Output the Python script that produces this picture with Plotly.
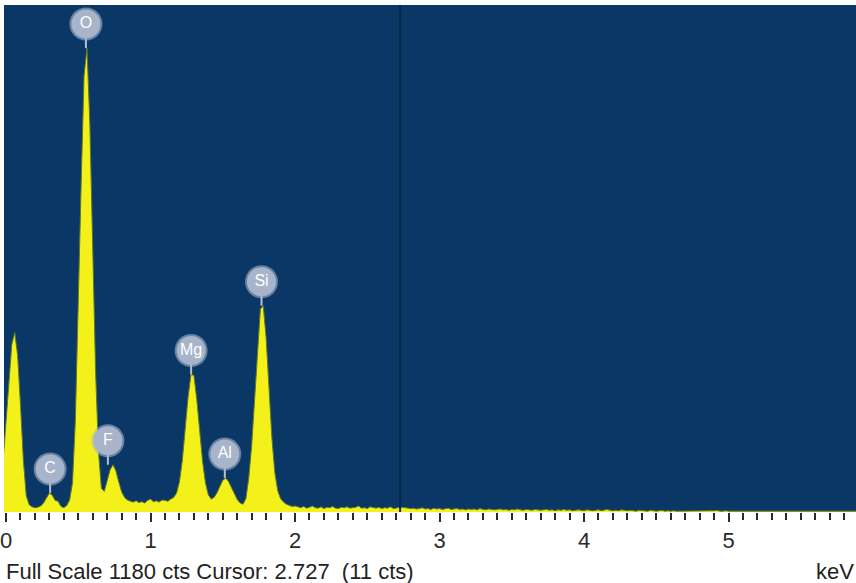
import numpy as np
import plotly.graph_objects as go

# EDS spectrum: counts per 20 eV channel, first channel at -0.02 keV
CHANNEL_START = -0.02
CHANNEL_WIDTH = 0.02
counts = [
    120, 205, 300, 390, 418, 365, 250, 120, 38, 17,
    12, 10, 11, 14, 21, 33, 44, 39, 27, 25,
    13, 10, 15, 28, 68, 215, 460, 765, 1015, 1080,
    905, 610, 325, 140, 55, 48, 72, 98, 110, 96,
    70, 47, 34, 28, 25, 23, 26, 22, 24, 21,
    27, 30, 24, 26, 23, 28, 27, 25, 30, 34,
    44, 70, 120, 192, 268, 320, 318, 262, 188, 118,
    68, 40, 30, 34, 45, 61, 74, 79, 71, 57,
    41, 29, 21, 18, 31, 80, 155, 265, 385, 472,
    480, 405, 288, 172, 92, 50, 31, 23, 18, 16,
    13, 14,
    # 2.02 - 2.40
    12, 10, 13, 9, 11, 14, 10, 9, 12, 8, 11, 10, 13, 9, 8, 11, 10, 12, 9, 10,
    # 2.42 - 2.80
    11, 14, 9, 10, 8, 12, 10, 9, 11, 8, 10, 9, 12, 8, 9, 11, 11, 10, 9, 8,
    # 2.82 - 3.20
    9, 7, 8, 10, 7, 8, 6, 9, 7, 8, 6, 7, 9, 6, 7, 8, 6, 7, 5, 7,
    # 3.22 - 3.60
    6, 7, 5, 8, 6, 5, 7, 6, 5, 6, 7, 5, 6, 4, 6, 5, 7, 5, 4, 6,
    # 3.62 - 4.00
    5, 4, 6, 5, 4, 5, 6, 4, 5, 3, 5, 4, 6, 4, 5, 3, 4, 5, 4, 3,
    # 4.02 - 4.40
    5, 4, 3, 4, 5, 3, 4, 6, 4, 3, 4, 3, 5, 4, 3, 4, 3, 2, 4, 3,
    # 4.42 - 4.80
    3, 2, 4, 3, 2, 3, 4, 2, 3, 2, 3, 2, 2, 3, 2, 3, 2, 2, 3, 2,
    # 4.82 - 5.20
    2, 3, 2, 2, 3, 4, 2, 2, 3, 2, 2, 3, 2, 2, 2, 3, 2, 2, 2, 3,
    # 5.22 - 5.60
    2, 2, 3, 2, 2, 2, 3, 2, 2, 2, 3, 2, 2, 3, 2, 2, 2, 2, 3, 2,
    # 5.62 - 5.88
    2, 2, 3, 2, 2, 2, 2, 3, 2, 2, 2, 2, 3, 2,
]
energy = CHANNEL_START + CHANNEL_WIDTH * np.arange(len(counts))
counts = np.array(counts, dtype=float)

# Identified element lines (keV, as calibrated on this detector)
elements = ["C", "O", "F", "Mg", "Al", "Si"]
element_kev = [0.305, 0.553, 0.705, 1.281, 1.514, 1.768]

FULL_SCALE = 1180
CURSOR_KEV = 2.727
X_RANGE = [-0.014, 5.882]
major_ticks = [0, 1, 2, 3, 4, 5]

# Geometry
W, H = 856, 583
M = dict(l=4, r=0, t=5, b=71)
plot_h = H - M["t"] - M["b"]
LABEL_OFFSET_PX = 24
label_offset = LABEL_OFFSET_PX * FULL_SCALE / plot_h

BG = "#0b3767"
YELLOW = "#f4f11a"
BADGE = "#a8b4ca"
FONT = "Liberation Sans, Arial, sans-serif"

peak_height = [
    counts[(energy > e - 0.05) & (energy < e + 0.05)].max() for e in element_kev
]
badge_y = [p + label_offset for p in peak_height]

cursor_cts = int(round(np.interp(CURSOR_KEV, energy, counts)))

fig = go.Figure()

# Spectrum
fig.add_trace(go.Scatter(
    x=energy, y=counts, mode="lines", fill="tozeroy",
    fillcolor=YELLOW, line=dict(color="#5f7a28", width=1),
    hoverinfo="skip", showlegend=False,
))

# Stems from peak to badge
for e, p, b in zip(element_kev, peak_height, badge_y):
    fig.add_trace(go.Scatter(
        x=[e, e], y=[p, b], mode="lines",
        line=dict(color="#b4bfd2", width=2),
        hoverinfo="skip", showlegend=False,
    ))

# Badge: soft outer rim + core carrying the element symbol
fig.add_trace(go.Scatter(
    x=element_kev, y=badge_y, mode="markers",
    marker=dict(size=33, color=BADGE, opacity=0.6, line=dict(width=0)),
    hoverinfo="skip", showlegend=False,
))
fig.add_trace(go.Scatter(
    x=element_kev, y=badge_y, mode="markers+text",
    marker=dict(size=29, color=BADGE, line=dict(width=0)),
    text=elements, textposition="middle center",
    textfont=dict(family=FONT, size=16, color="#ffffff"),
    hoverinfo="skip", showlegend=False,
))

# Cursor
fig.add_shape(
    type="line", xref="x", yref="paper",
    x0=CURSOR_KEV, x1=CURSOR_KEV, y0=0, y1=1,
    line=dict(color="#072544", width=2), layer="above",
)

status = f"Full Scale {FULL_SCALE} cts Cursor: {CURSOR_KEV:.3f}  ({cursor_cts} cts)"
text_y = -(571 - (H - M["b"])) / plot_h

fig.add_annotation(
    text=status, xref="paper", yref="paper", x=0, y=text_y,
    xanchor="left", yanchor="middle", showarrow=False,
    font=dict(family=FONT, size=22, color="#222222"),
)
fig.add_annotation(
    text="keV", xref="paper", yref="paper", x=1, y=text_y,
    xanchor="right", yanchor="middle", showarrow=False,
    font=dict(family=FONT, size=22, color="#222222"),
)

fig.update_layout(
    width=W, height=H, margin=M,
    paper_bgcolor="#ffffff", plot_bgcolor=BG,
    showlegend=False,
    xaxis=dict(
        range=X_RANGE, showgrid=False, zeroline=False, showline=False,
        tickmode="array", tickvals=major_ticks,
        ticktext=[str(t) for t in major_ticks],
        ticklabeloverflow="allow",
        ticks="outside", ticklen=9, tickwidth=1.5, tickcolor="#2a2a2a",
        tickfont=dict(family=FONT, size=22, color="#2a2a2a"),
        minor=dict(dtick=0.1, tick0=0, ticks="outside", ticklen=7,
                   tickwidth=1.5, tickcolor="#2a2a2a", showgrid=False),
        fixedrange=True,
    ),
    yaxis=dict(
        range=[0, FULL_SCALE], visible=False, fixedrange=True,
    ),
)

fig.write_html("out.html")
